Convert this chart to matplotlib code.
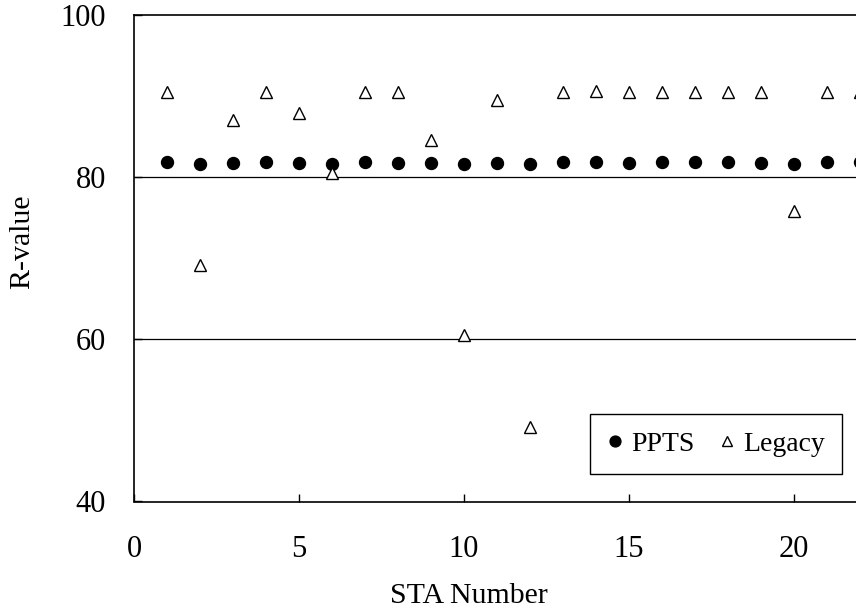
import matplotlib
matplotlib.use("Agg")
import matplotlib.pyplot as plt
from matplotlib.lines import Line2D

plt.rcParams['font.family'] = ['Liberation Serif', 'DejaVu Serif']

# Station numbers and R-values for the two test methods
sta = list(range(1, 23))
ppts = [81.85, 81.64, 81.72, 81.81, 81.72, 81.64, 81.89, 81.72, 81.72, 81.60, 81.72,
        81.60, 81.81, 81.89, 81.72, 81.89, 81.85, 81.81, 81.76, 81.64, 81.89, 81.81]
legacy = [90.5, 69.2, 87.0, 90.5, 87.9, 80.5, 90.5, 90.5, 84.6, 60.5, 89.5,
          49.2, 90.5, 90.6, 90.5, 90.5, 90.5, 90.5, 90.5, 75.8, 90.5, 90.5]

x_ticks = [0, 5, 10, 15, 20]
y_ticks = [40, 60, 80, 100]

W, H = 856, 613
fig = plt.figure(figsize=(W / 100, H / 100), dpi=100)
fig.patch.set_facecolor('white')

# plot area runs past the right edge of the figure
ax = fig.add_axes([134 / W, (H - 501.5) / H, 792 / W, 486.5 / H])
ax.set_xlim(0, 24)
ax.set_ylim(40, 100)

for y in [60, 80]:
    ax.axhline(y, color='black', lw=0.9, zorder=1)

ax.plot(sta, ppts, ls='none', marker='o', ms=8.6, color='black',
        mec='black', zorder=3)
ax.plot(sta, legacy, ls='none', marker='^', ms=8.4, mfc='white',
        mec='black', mew=1.0, zorder=4)

ax.set_xticks(x_ticks)
ax.set_yticks(y_ticks)
ax.tick_params(axis='both', direction='in', length=6, width=1.0,
               labelsize=22, colors='black')
ax.tick_params(axis='x', pad=24)
ax.tick_params(axis='y', pad=20)

for s in ax.spines.values():
    s.set_linewidth(1.2)
    s.set_color('black')

ax.set_ylabel('R-value', fontsize=21.5)
ax.yaxis.set_label_coords(-(134 - 22.5) / 792, (501.5 - 242) / 486.5)
ax.yaxis.label.set_verticalalignment('center')

fig.text(469 / W, (H - 603) / H, 'STA Number', fontsize=21.5,
         ha='center', va='baseline')

handles = [
    Line2D([], [], ls='none', marker='o', ms=7.8, color='black'),
    Line2D([], [], ls='none', marker='^', ms=6.5, mfc='white', mec='black', mew=1.0),
]
leg = ax.legend(handles, ['PPTS', 'Legacy'], ncol=2, loc='upper right',
                bbox_to_anchor=(842 / W, (H - 414) / H),
                bbox_transform=fig.transFigure, borderaxespad=0,
                fontsize=20, frameon=True, fancybox=False, framealpha=1,
                edgecolor='black', handlelength=0.6, handletextpad=0.25,
                columnspacing=0.9, borderpad=0.63)
leg.get_frame().set_linewidth(1.0)

fig.savefig('out.png', dpi=100, facecolor='white')
